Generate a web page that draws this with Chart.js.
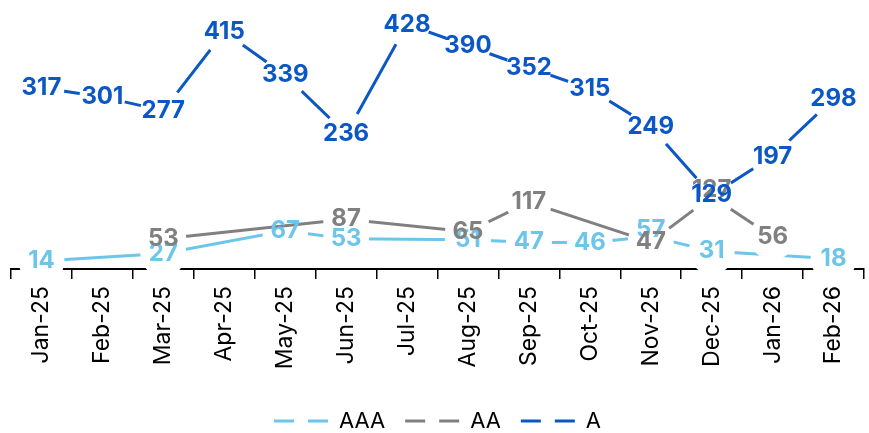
<!DOCTYPE html>
<html>
<head>
<meta charset="utf-8">
<script src="https://cdn.jsdelivr.net/npm/chart.js@4"></script>
<style>
  html, body { margin: 0; padding: 0; background: #fff; }
  #wrap { width: 869px; height: 433px; position: relative; }
</style>
</head>
<body>
<div id="wrap"><canvas id="chart"></canvas></div>
<script>
// Monthly counts by rating bucket (null = no value that month)
const months = ['Jan-25', 'Feb-25', 'Mar-25', 'Apr-25', 'May-25', 'Jun-25', 'Jul-25',
                'Aug-25', 'Sep-25', 'Oct-25', 'Nov-25', 'Dec-25', 'Jan-26', 'Feb-26'];
const aaaValues = [14, null, 27, null, 67, 53, null, 51, 47, 46, 57, 31, null, 18];
const aaValues  = [null, null, 53, null, null, 87, null, 65, 117, null, 47, 127, 56, null];
const aValues   = [317, 301, 277, 415, 339, 236, 428, 390, 352, 315, 249, 129, 197, 298];

const seriesNames  = ['AAA', 'AA', 'A'];
const seriesColors = ['#6EC5EA', '#808080', '#0B57C6'];

const FONT = 'Inter, sans-serif';

// value text on top of every drawn point, after all lines are done
const valueLabels = {
    id: 'valueLabels',
    afterDatasetsDraw(chart) {
        const ctx = chart.ctx;
        const n = chart.data.datasets.length;
        ctx.save();
        ctx.font = '700 24px ' + FONT;
        ctx.textAlign = 'center';
        ctx.textBaseline = 'middle';
        chart.data.datasets.forEach((ds, i) => {
            const meta = chart.getDatasetMeta(i);
            meta.data.forEach((pt, j) => {
                const v = ds.data[j];
                if (v === null || v === undefined) return;
                let y = pt.y;
                // lift a label that sits almost on top of a later series' label
                for (let k = i + 1; k < n; k++) {
                    const other = chart.getDatasetMeta(k).data[j];
                    if (chart.data.datasets[k].data[j] != null && Math.abs(other.y - pt.y) < 8) y -= 7;
                }
                ctx.fillStyle = ds.borderColor;
                ctx.fillText(String(v), pt.x, y);
            });
        });
        ctx.restore();
    }
};

function makeSeries(idx, values) {
    return {
        label: seriesNames[idx],
        data: values,
        borderColor: seriesColors[idx],
        borderWidth: 3,
        tension: 0,
        spanGaps: true,
        // white discs knock the line out around each value
        pointRadius: 23,
        pointHoverRadius: 23,
        pointBackgroundColor: '#fff',
        pointBorderWidth: 0,
        // AAA underneath, A on top
        order: 3 - idx,
        clip: { left: 30, right: 30, top: 30, bottom: 12 }
    };
}

new Chart(document.getElementById('chart'), {
    type: 'line',
    data: {
        labels: months,
        datasets: [
            makeSeries(0, aaaValues),
            makeSeries(1, aaValues),
            makeSeries(2, aValues)
        ]
    },
    options: {
        responsive: true,
        maintainAspectRatio: false,
        animation: false,
        events: [],
        layout: { autoPadding: false, padding: { top: 6, left: 11, right: 5, bottom: -9 } },
        scales: {
            x: {
                offset: true,
                grid: { offset: true, drawOnChartArea: false, color: '#000', lineWidth: 1.5, tickLength: 10 },
                border: { color: '#000', width: 2 },
                ticks: {
                    autoSkip: false, minRotation: 90, maxRotation: 90,
                    color: '#000', padding: 7,
                    font: { family: FONT, size: 23 }
                },
                afterFit(scale) {
                    scale.height = 121;
                    scale.paddingLeft = 0;
                    scale.paddingRight = 0;
                }
            },
            y: { display: false, min: 0, max: 460 }
        },
        plugins: {
            tooltip: { enabled: false },
            legend: {
                position: 'bottom',
                labels: {
                    usePointStyle: true,
                    pointStyleWidth: 54,
                    color: '#000',
                    padding: 20,
                    font: { family: FONT, size: 22 },
                    generateLabels(chart) {
                        return chart.data.datasets.map((ds, i) => ({
                            text: ds.label,
                            fillStyle: ds.borderColor,
                            strokeStyle: ds.borderColor,
                            fontColor: '#000',
                            lineWidth: 3,
                            lineDash: [20, 14],
                            pointStyle: 'line',
                            datasetIndex: i,
                            hidden: false
                        }));
                    }
                }
            }
        }
    },
    plugins: [valueLabels]
});
</script>
</body>
</html>
